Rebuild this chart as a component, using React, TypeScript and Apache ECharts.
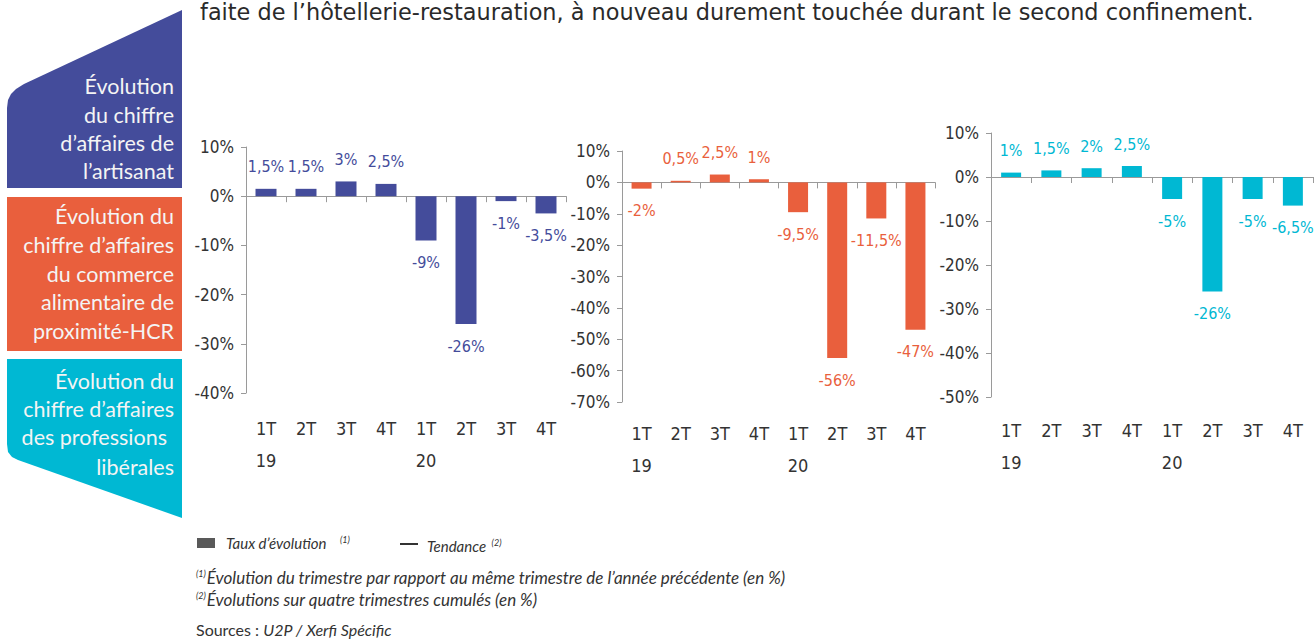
import React, { useEffect, useRef } from "react";
import * as echarts from "echarts";

const categories = ["1T\n19", "2T", "3T", "4T", "1T\n20", "2T", "3T", "4T"];
const artisanat = [1.5, 1.5, 3, 2.5, -9, -26, -1, -3.5];
const commerce = [-2, 0.5, 2.5, 1, -9.5, -56, -11.5, -47];
const liberales = [1, 1.5, 2, 2.5, -5, -26, -5, -6.5];

const yMins = [-40, -70, -50];
const yMax = 10;
const yInterval = 10;

const BLUE = "#444C9B";
const ORANGE = "#E95F3D";
const CYAN = "#00B8D3";

const NARROW = "'Liberation Sans Narrow', 'DejaVu Sans Condensed', sans-serif";
const PANEL_FONT = "Lato, 'Noto Sans', sans-serif";

const fmt = (v: number) => String(v).replace(".", ",") + "%";

function barSeries(values: number[], color: string, idx: number, barWidth: number) {
  return {
    type: "bar",
    xAxisIndex: idx * 2,
    yAxisIndex: idx,
    barWidth,
    itemStyle: { color },
    data: values.map((v) => ({
      value: v,
      label: { position: v >= 0 ? "top" : "bottom" },
    })),
    label: {
      show: true,
      distance: 14,
      color,
      fontSize: 16,
      fontFamily: NARROW,
      formatter: (p: any) => fmt(p.value),
    },
  };
}

const grids = [
  { left: 246, top: 147, width: 320, height: 246 },
  { left: 622, top: 151, width: 313, height: 251 },
  { left: 991, top: 133, width: 322, height: 264 },
];
const labelMargins = [19, 15, 17];

export default function App() {
  const ref = useRef<HTMLDivElement>(null);
  useEffect(() => {
    if (!ref.current) return;
    const chart = echarts.init(ref.current, undefined, { renderer: "svg" });
    const xAxes: any[] = [];
    const yAxes: any[] = [];
    grids.forEach((_, i) => {
      xAxes.push({
        type: "category",
        gridIndex: i,
        data: categories,
        axisLine: { onZero: true, lineStyle: { color: "#9A9A9A", width: 1 } },
        axisTick: { show: true, length: 6, lineStyle: { color: "#9A9A9A" } },
        axisLabel: { show: false },
      });
      xAxes.push({
        type: "category",
        gridIndex: i,
        position: "bottom",
        data: categories,
        axisLine: { show: false, onZero: false },
        axisTick: { show: false },
        axisLabel: {
          interval: 0,
          margin: labelMargins[i],
          color: "#333",
          fontSize: 18,
          lineHeight: 32,
          fontFamily: NARROW,
        },
      });
      yAxes.push({
        type: "value",
        gridIndex: i,
        min: yMins[i],
        max: yMax,
        interval: yInterval,
        splitLine: { show: false },
        axisLine: { show: true, lineStyle: { color: "#9A9A9A" } },
        axisTick: { show: true, length: 5, lineStyle: { color: "#9A9A9A" } },
        axisLabel: {
          formatter: "{value}%",
          color: "#333",
          fontSize: 17,
          margin: 12,
          fontFamily: NARROW,
        },
      });
    });

    const panelText = (lines: string[], ys: number[], xs?: number[]) =>
      lines.map((t, k) => ({
        type: "text",
        x: xs ? xs[k] : 174,
        y: ys[k],
        style: {
          text: t,
          fill: "#F4F4F4",
          fontSize: 21.5,
          fontFamily: PANEL_FONT,
          align: "right",
          verticalAlign: "middle",
        },
      }));

    const italic = { fontStyle: "italic", fontFamily: PANEL_FONT, fill: "#333" };
    const sup = (pad: number[]) => ({
      fontSize: 9,
      fontStyle: "italic",
      fontFamily: PANEL_FONT,
      fill: "#333",
      padding: pad,
    });

    const graphic: any[] = [
      {
        type: "text",
        x: 200,
        y: 12,
        style: {
          text: "faite de l’hôtellerie-restauration, à nouveau durement touchée durant le second confinement.",
          fill: "#2a2a2a",
          fontSize: 22.4,
          fontFamily: "'DejaVu Sans', sans-serif",
          verticalAlign: "middle",
        },
      },
      {
        type: "polygon",
        shape: {
          points: [
            [7, 188], [7, 108], [8, 100], [11, 94], [16, 89], [24, 84], [182, 10], [182, 188],
          ],
        },
        style: { fill: BLUE },
      },
      { type: "rect", shape: { x: 7, y: 197, width: 175, height: 154 }, style: { fill: ORANGE } },
      {
        type: "polygon",
        shape: {
          points: [
            [7, 359], [182, 359], [182, 518], [18, 460], [12, 457], [8, 452], [7, 444],
          ],
        },
        style: { fill: CYAN },
      },
      ...panelText(["Évolution", "du chiffre", "d’affaires de", "l’artisanat"], [86, 115, 143, 171]),
      ...panelText(
        ["Évolution du", "chiffre d’affaires", "du commerce", "alimentaire de", "proximité-HCR"],
        [216, 245, 274, 302, 331]
      ),
      ...panelText(
        ["Évolution du", "chiffre d’affaires", "des professions", "libérales"],
        [381, 409, 437, 467],
        [174, 174, 167, 174]
      ),
      { type: "rect", shape: { x: 197, y: 538, width: 18, height: 10 }, style: { fill: "#595959" } },
      {
        type: "text",
        x: 226,
        y: 543,
        style: {
          text: "Taux d’évolution {s|(1)}",
          ...italic,
          fontSize: 15,
          verticalAlign: "middle",
          rich: { s: sup([0, 0, 8, 10]) },
        },
      },
      { type: "rect", shape: { x: 400, y: 543, width: 18, height: 2 }, style: { fill: "#333" } },
      {
        type: "text",
        x: 427,
        y: 546,
        style: {
          text: "Tendance {s|(2)}",
          ...italic,
          fontSize: 15,
          verticalAlign: "middle",
          rich: { s: sup([0, 0, 8, 2]) },
        },
      },
      {
        type: "text",
        x: 196,
        y: 577,
        style: {
          text: "{s|(1)}Évolution du trimestre par rapport au même trimestre de l’année précédente (en %)",
          ...italic,
          fontSize: 17,
          verticalAlign: "middle",
          rich: { s: sup([0, 1, 8, 0]) },
        },
      },
      {
        type: "text",
        x: 196,
        y: 599,
        style: {
          text: "{s|(2)}Évolutions sur quatre trimestres cumulés (en %)",
          ...italic,
          fontSize: 17,
          verticalAlign: "middle",
          rich: { s: sup([0, 1, 8, 0]) },
        },
      },
      {
        type: "text",
        x: 196,
        y: 629,
        style: {
          text: "Sources : {i|U2P / Xerfi Spécific}",
          fill: "#333",
          fontSize: 16,
          fontFamily: PANEL_FONT,
          verticalAlign: "middle",
          rich: { i: { fontSize: 16, fontStyle: "italic", fontFamily: PANEL_FONT, fill: "#333" } },
        },
      },
    ];

    chart.setOption({
      animation: false,
      grid: grids,
      xAxis: xAxes,
      yAxis: yAxes,
      series: [
        barSeries(artisanat, BLUE, 0, 21),
        barSeries(commerce, ORANGE, 1, 20),
        barSeries(liberales, CYAN, 2, 20),
      ],
      graphic,
    });
    return () => chart.dispose();
  }, []);
  return (
    <div
      ref={ref}
      style={{ position: "fixed", left: 0, top: 0, width: 1314, height: 640, background: "#fff" }}
    />
  );
}
